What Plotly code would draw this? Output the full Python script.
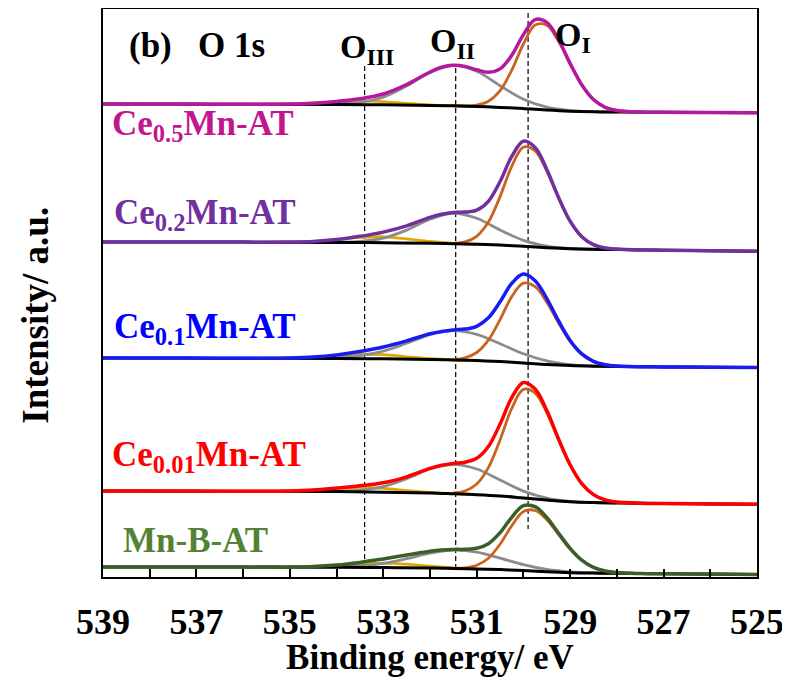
import plotly.graph_objects as go

# ---------------- data (binding energy in eV, intensity in a.u.) ----------------
energy_env = [539, 538, 537, 536, 535.5, 535, 534.5, 534, 533.5, 533, 532.5, 532, 531.75, 531.5,
              531.25, 531, 530.75, 530.5, 530.25, 530, 529.75, 529.5, 529.25, 529, 528.75, 528.5,
              528.25, 528, 527.5, 527, 526, 525]
energy_bg = [539, 536, 534, 533, 532, 531.5, 531, 530.5, 530, 529.5, 529, 528.5, 528, 527, 525]
energy_o1 = [531.5, 531.25, 531, 530.75, 530.5, 530.25, 530, 529.75, 529.5, 529.25, 529, 528.75,
             528.5, 528.25, 528, 527.75, 527.5]
energy_o2 = [534.5, 534, 533.5, 533, 532.5, 532, 531.5, 531, 530.5, 530, 529.5, 529, 528.5, 528]
energy_o3 = [535.5, 535, 534.5, 534, 533.5, 533, 532.5, 532, 531.5, 531]

samples = ["Ce<sub>0.5</sub>Mn-AT", "Ce<sub>0.2</sub>Mn-AT", "Ce<sub>0.1</sub>Mn-AT",
           "Ce<sub>0.01</sub>Mn-AT", "Mn-B-AT"]

ce05_env = [473.0, 473.0, 472.9, 472.8, 472.8, 473.0, 473.8, 475.6, 478.3, 483.0, 492.5, 505.0, 509.7,
            511.7, 510.6, 507.2, 504.7, 508.1, 521.7, 542.4, 557.4, 554.6, 537.4, 513.6, 492.1, 477.5,
            469.7, 466.5, 464.9, 464.7, 464.4, 464.2]
ce05_bg = [473.0, 472.8, 472.6, 472.2, 471.6, 471.2, 470.5, 469.6, 468.4, 466.9, 465.8, 465.2, 465.0, 464.7, 464.2]
ce05_o1 = [471.2, 471.1, 472.0, 475.8, 486.4, 506.8, 533.0, 551.9, 551.7, 536.0, 513.0, 491.9, 477.4,
           469.7, 466.5, 465.3, 464.9]
ce05_o2 = [472.7, 473.1, 474.6, 479.9, 490.9, 504.5, 511.6, 505.7, 491.3, 477.8, 469.8, 466.4, 465.3, 465.0]
ce05_o3 = [472.8, 473.0, 473.8, 475.2, 476.1, 475.3, 473.6, 472.1, 471.3, 470.5]

ce02_env = [335.0, 335.0, 334.9, 334.9, 334.8, 334.9, 335.5, 337.4, 340.7, 344.9, 351.1, 359.6, 362.8,
            364.6, 364.9, 366.8, 375.7, 395.5, 420.6, 435.8, 429.4, 407.6, 379.8, 355.8, 340.3, 332.3,
            329.0, 327.9, 327.1, 326.8, 326.2, 325.7]
ce02_bg = [335.0, 334.9, 334.6, 334.3, 333.7, 333.3, 332.7, 331.9, 330.7, 329.3, 328.3, 327.7, 327.5, 326.8, 325.7]
ce02_o1 = [333.7, 335.1, 340.7, 354.9, 380.4, 410.7, 429.9, 426.2, 406.0, 379.1, 355.6, 340.2, 332.2,
           329.0, 327.9, 327.4, 327.1]
ce02_o2 = [334.7, 334.8, 335.6, 338.9, 346.9, 357.8, 363.7, 358.7, 347.0, 336.6, 330.9, 328.5, 327.7, 327.5]
ce02_o3 = [334.8, 334.9, 335.5, 337.3, 339.6, 340.2, 338.2, 335.5, 333.7, 332.8]

ce01_env = [219.0, 219.0, 218.9, 218.8, 218.8, 219.0, 219.9, 222.1, 225.6, 230.0, 236.1, 243.2, 245.6,
            247.1, 247.9, 250.7, 259.2, 275.2, 293.6, 302.9, 296.2, 278.4, 256.3, 236.6, 223.1, 215.7,
            212.3, 211.0, 210.3, 210.1, 209.8, 209.5]
ce01_bg = [219.0, 218.8, 218.6, 218.2, 217.6, 217.1, 216.4, 215.4, 214.1, 212.5, 211.4, 210.8, 210.5, 210.1, 209.5]
ce01_o1 = [217.6, 219.2, 224.5, 236.9, 257.4, 280.4, 293.8, 290.3, 274.8, 254.3, 235.6, 222.6, 215.5,
           212.2, 211.0, 210.5, 210.3]
ce01_o2 = [218.8, 219.4, 221.3, 225.9, 233.8, 242.4, 246.4, 242.6, 233.2, 223.2, 216.1, 212.4, 211.0, 210.5]
ce01_o3 = [218.8, 219.0, 219.7, 221.3, 222.7, 222.3, 220.2, 218.4, 217.2, 216.4]

ce001_env = [86.0, 85.9, 85.9, 85.8, 85.8, 86.0, 86.9, 88.9, 91.2, 94.2, 100.2, 108.6, 111.7, 113.6,
             114.8, 118.7, 130.5, 153.0, 179.4, 194.5, 187.9, 166.5, 138.3, 112.3, 93.4, 82.4, 77.1,
             74.9, 73.8, 73.5, 73.1, 72.7]
ce001_bg = [86.0, 85.8, 85.4, 84.8, 84.0, 83.2, 82.3, 81.0, 79.0, 76.9, 75.2, 74.4, 74.0, 73.5, 72.7]
ce001_o1 = [84.0, 86.0, 93.0, 109.4, 137.1, 168.5, 187.6, 183.9, 164.4, 137.2, 111.8, 93.2, 82.4, 77.1,
            74.9, 74.1, 73.8]
ce001_o2 = [85.6, 85.7, 86.8, 90.4, 98.2, 108.0, 112.7, 108.0, 96.9, 85.9, 79.0, 75.7, 74.4, 74.0]
ce001_o3 = [85.8, 86.0, 86.8, 88.5, 89.6, 88.6, 86.4, 84.6, 83.4, 82.3]

mnb_env = [10.0, 10.0, 9.9, 9.9, 9.9, 9.9, 10.4, 11.9, 14.6, 18.1, 21.9, 25.7, 27.0, 27.6, 27.7, 28.7,
           33.3, 44.3, 59.7, 71.4, 70.3, 59.6, 44.0, 28.6, 16.8, 9.6, 6.0, 4.4, 3.5, 3.2, 2.9, 2.5]
mnb_bg = [10.0, 9.9, 9.7, 9.4, 8.9, 8.6, 8.1, 7.4, 6.4, 5.2, 4.3, 3.9, 3.7, 3.2, 2.5]
mnb_o1 = [8.7, 9.2, 11.7, 18.8, 32.8, 51.2, 65.5, 66.5, 57.3, 42.7, 27.9, 16.5, 9.5, 5.9, 4.4, 3.8, 3.5]
mnb_o2 = [9.8, 10.1, 11.0, 13.6, 18.3, 23.8, 26.9, 24.9, 18.9, 12.3, 7.5, 5.0, 4.0, 3.7]
mnb_o3 = [9.9, 9.9, 10.4, 11.5, 13.2, 13.9, 12.8, 10.8, 9.2, 8.2]

# peak reference positions (eV) and the vertical extent of the dashed markers
ref_energy = [533.4, 531.45, 529.9]
ref_top = [511, 509, 564]
ref_bottom = [15, 7, 48]
ref_labels = ["O<sub>III</sub>", "O<sub>II</sub>", "O<sub>I</sub>"]

x_ticks = [539, 537, 535, 533, 531, 529, 527, 525]

# ---------------- style ----------------
FONT = "Liberation Serif"
env_colors = ["#B5179E", "#7030A0", "#1A1AF5", "#FF0000", "#3B5E2B"]
label_colors = ["#C0168E", "#7030A0", "#0000FF", "#FF0000", "#548235"]
c_o1, c_o2, c_o3, c_bg = "#C8641E", "#8C8C8C", "#E0A800", "#000000"

spectra = [
    (ce05_env, ce05_bg, ce05_o1, ce05_o2, ce05_o3),
    (ce02_env, ce02_bg, ce02_o1, ce02_o2, ce02_o3),
    (ce01_env, ce01_bg, ce01_o1, ce01_o2, ce01_o3),
    (ce001_env, ce001_bg, ce001_o1, ce001_o2, ce001_o3),
    (mnb_env, mnb_bg, mnb_o1, mnb_o2, mnb_o3),
]

fig = go.Figure()

# dashed reference lines
for e, yt, yb in zip(ref_energy, ref_top, ref_bottom):
    fig.add_trace(go.Scatter(x=[e, e], y=[yt, yb], mode="lines",
                             line=dict(color="black", width=1.2, dash="5px,3px"),
                             hoverinfo="skip"))

spl = dict(shape="spline", smoothing=1.0)
for (env, bg, o1, o2, o3), col in zip(spectra, env_colors):
    fig.add_trace(go.Scatter(x=energy_o3, y=o3, mode="lines", line=dict(color=c_o3, width=2.8, **spl)))
    fig.add_trace(go.Scatter(x=energy_o2, y=o2, mode="lines", line=dict(color=c_o2, width=2.8, **spl)))
    fig.add_trace(go.Scatter(x=energy_o1, y=o1, mode="lines", line=dict(color=c_o1, width=2.8, **spl)))
    fig.add_trace(go.Scatter(x=energy_bg, y=bg, mode="lines", line=dict(color=c_bg, width=3, **spl)))
    fig.add_trace(go.Scatter(x=energy_env, y=env, mode="lines", line=dict(color=col, width=3.5, **spl)))

annotations = []
# sample labels
label_pos = [(538.85, 452), (538.81, 363), (538.81, 249), (538.85, 121), (538.62, 37)]
for text, (lx, ly), col in zip(samples, label_pos, label_colors):
    annotations.append(dict(x=lx, y=ly, xref="x", yref="y", text="<b>%s</b>" % text, showarrow=False,
                            xanchor="left", yanchor="middle",
                            font=dict(family=FONT, size=35, color=col)))
# peak labels
peak_pos = [(533.97, 528), (532.05, 534), (529.37, 540)]
for text, (px, py) in zip(ref_labels, peak_pos):
    annotations.append(dict(x=px, y=py, xref="x", yref="y", text="<b>%s</b>" % text, showarrow=False,
                            xanchor="left", yanchor="middle",
                            font=dict(family=FONT, size=34, color="black")))
# panel tag
annotations.append(dict(x=538.48, y=532, xref="x", yref="y",
                        text="<b>(b)&nbsp;&nbsp;&nbsp;O 1s</b>", showarrow=False,
                        xanchor="left", yanchor="middle", font=dict(family=FONT, size=35, color="black")))
# y-axis title
annotations.append(dict(x=-0.1024, y=0.46, xref="paper", yref="paper", text="<b>Intensity/ a.u.</b>",
                        textangle=-90, showarrow=False, xanchor="center", yanchor="middle",
                        font=dict(family=FONT, size=37, color="black")))

# the page body adds an 8 px margin, so the figure is sized and placed to compensate
fig.update_layout(
    width=782, height=669,
    margin=dict(l=95, r=33, t=1, b=100, autoexpand=False),
    plot_bgcolor="white", paper_bgcolor="white",
    showlegend=False,
    annotations=annotations,
    xaxis=dict(
        range=[539, 525], tickmode="array", tickvals=x_ticks, ticktext=[str(v) for v in x_ticks],
        ticks="inside", ticklen=8, tickwidth=2, tickcolor="black",
        minor=dict(dtick=1, tick0=525, ticks="inside", ticklen=8, tickwidth=2, tickcolor="black"),
        showline=True, linewidth=2, linecolor="black", mirror=True,
        showgrid=False, zeroline=False, automargin=False,
        tickfont=dict(family=FONT, size=36, color="black", weight="bold"),
        ticklabelstandoff=12, ticklabeloverflow="allow",
        title=dict(text="Binding energy/ eV", standoff=13,
                   font=dict(family=FONT, size=35, color="black", weight="bold")),
    ),
    yaxis=dict(
        range=[0, 568], showticklabels=False, ticks="",
        showline=True, linewidth=2, linecolor="black", mirror=True,
        showgrid=False, zeroline=False, automargin=False,
    ),
)

fig.write_html("out.html")
